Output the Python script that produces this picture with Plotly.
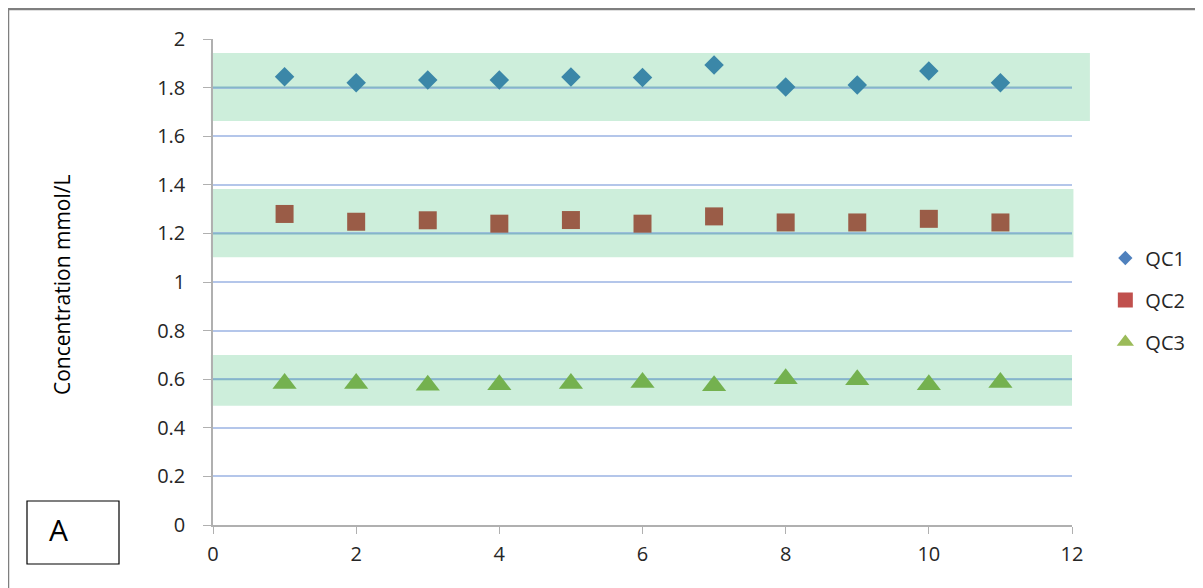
import plotly.graph_objects as go

# ---- data ----
runs = [1, 2, 3, 4, 5, 6, 7, 8, 9, 10, 11]
qc1 = [1.845, 1.820, 1.831, 1.831, 1.844, 1.842, 1.893, 1.802, 1.811, 1.868, 1.820]
qc2 = [1.280, 1.248, 1.254, 1.240, 1.255, 1.240, 1.270, 1.245, 1.245, 1.260, 1.245]
qc3 = [0.582, 0.582, 0.575, 0.577, 0.582, 0.586, 0.573, 0.602, 0.598, 0.577, 0.586]
series_names = ["QC1", "QC2", "QC3"]
targets = [1.8, 1.2, 0.6]
band_low = [1.663, 1.102, 0.491]
band_high = [1.942, 1.383, 0.700]
band_xmax = [12.25, 12.02, 12.0]
x_ticks = [0, 2, 4, 6, 8, 10, 12]

X_RANGE = [0, 12]
Y_RANGE = [0, 2]

FONT = "Open Sans"
TXT = "#262626"

fig = go.Figure()


def px(v):
    return (v - X_RANGE[0]) / (X_RANGE[1] - X_RANGE[0])


def py(v):
    return (v - Y_RANGE[0]) / (Y_RANGE[1] - Y_RANGE[0])


# bands (drawn below gridlines)
for lo, hi, xm in zip(band_low, band_high, band_xmax):
    fig.add_shape(type="rect", xref="paper", yref="paper",
                  x0=px(-0.03), x1=px(xm), y0=py(lo), y1=py(hi),
                  fillcolor="#cdeedb", line_width=0, layer="below")

# target lines
for t in targets:
    fig.add_shape(type="line", xref="x", yref="y", x0=0, x1=12, y0=t, y1=t,
                  line=dict(color="#84b6c8", width=2), layer="between")

# data traces (tinted colours as seen through the bands)
fig.add_trace(go.Scatter(x=runs, y=qc1, mode="markers", showlegend=False,
                         marker=dict(symbol="diamond", size=15, color="#3b87a8")))
fig.add_trace(go.Scatter(x=runs, y=qc2, mode="markers", showlegend=False,
                         marker=dict(symbol="square", size=18, color="#9a5c47")))
fig.add_trace(go.Scatter(x=runs, y=qc3, mode="markers", showlegend=False,
                         marker=dict(symbol="triangle-up", size=21, color="#74b14f")))

# legend entries
leg = [("diamond", 11, "#4f81bd"), ("square", 15, "#c0504d"), ("triangle-up", 15, "#9bbb59")]
for name, (sym, sz, col) in zip(series_names, leg):
    fig.add_trace(go.Scatter(x=[None], y=[None], mode="markers", name=name,
                             legendgroup=name,
                             marker=dict(symbol=sym, size=sz, color=col)))

# outer frame
fig.add_shape(type="rect", xref="paper", yref="paper",
              x0=-205 / 859, x1=1.3, y0=-0.3, y1=1 + 30 / 486,
              line=dict(color="#7f7f7f", width=2.5), fillcolor="rgba(0,0,0,0)", layer="above")

# "A" box
fig.add_shape(type="rect", xref="paper", yref="paper",
              x0=-186 / 859, x1=-94 / 859, y0=-39 / 486, y1=24 / 486,
              line=dict(color="#000000", width=1.2), fillcolor="white")
fig.add_annotation(text="A", xref="paper", yref="paper", x=-155 / 859, y=-4 / 486,
                   showarrow=False, font=dict(family=FONT, size=30, color="#000000"),
                   xanchor="center", yanchor="middle")

# y title
fig.add_annotation(text="Concentration mmol/L", xref="paper", yref="paper",
                   x=-151 / 859, y=0.5 - 3 / 486, textangle=-90, showarrow=False,
                   font=dict(family=FONT, size=21, color="#000000"),
                   xanchor="center", yanchor="middle")

fig.update_xaxes(range=X_RANGE, tickvals=x_ticks, showgrid=False, zeroline=False,
                 showline=True, linecolor="#b0b0b0", linewidth=1.5,
                 ticks="outside", ticklen=7, tickcolor="#b0b0b0", tickwidth=1,
                 tickfont=dict(family=FONT, size=20, color=TXT), ticklabelstandoff=3)
fig.update_yaxes(range=Y_RANGE, dtick=0.2, tick0=0, showgrid=True, gridcolor="#b4c6ea",
                 gridwidth=2, zeroline=False, showline=True, linecolor="#b0b0b0",
                 linewidth=1.5, ticks="outside", ticklen=8, tickcolor="#b0b0b0",
                 tickfont=dict(family=FONT, size=20, color=TXT), ticklabelstandoff=14)

fig.update_layout(
    width=1195, height=580,
    margin=dict(l=205, r=131, t=31, b=63),
    plot_bgcolor="white", paper_bgcolor="white",
    legend=dict(x=1.0388, y=0.463, xanchor="left", yanchor="middle",
                traceorder="grouped", tracegroupgap=13,
                font=dict(family=FONT, size=20, color=TXT),
                bgcolor="rgba(0,0,0,0)", itemwidth=30),
)

fig.write_html("out.html")
